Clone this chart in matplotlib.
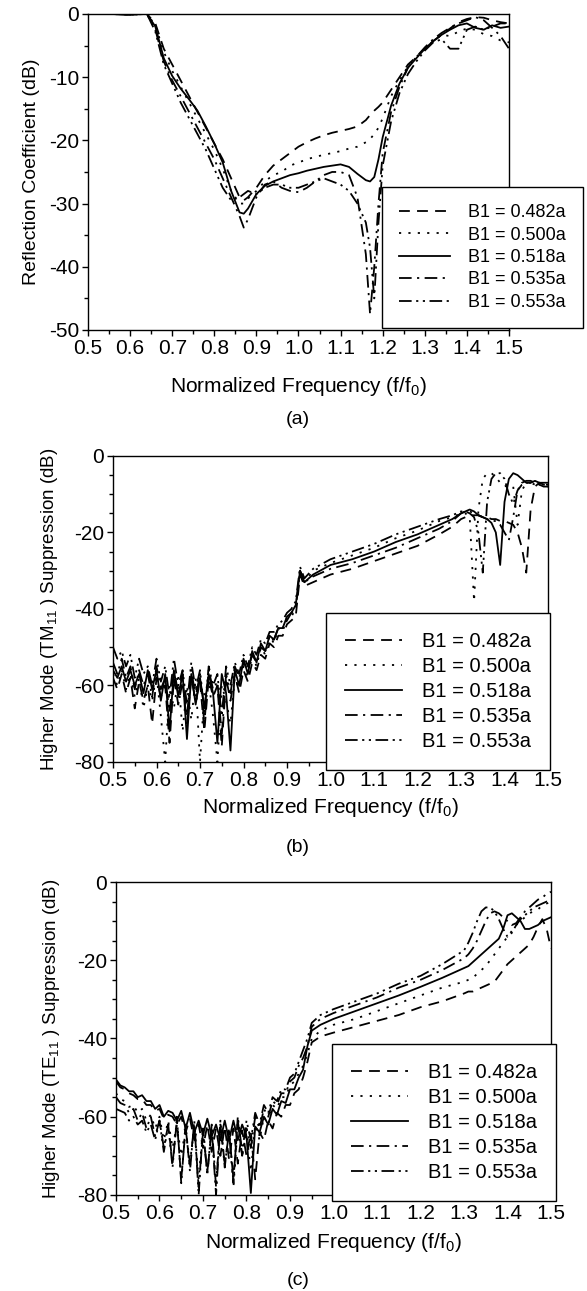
"""
plot.py - return loss and higher-mode suppression vs normalized frequency
for five values of the B1 step width.
"""
import matplotlib
matplotlib.use("Agg")
import matplotlib.pyplot as plt
from matplotlib.ticker import MultipleLocator, FormatStrFormatter

plt.rcParams["font.family"] = ["Liberation Sans", "DejaVu Sans"]
plt.rcParams["mathtext.fontset"] = "custom"
plt.rcParams["mathtext.rm"] = "Liberation Sans"
plt.rcParams["axes.unicode_minus"] = False

labels = ["B1 = 0.482a", "B1 = 0.500a", "B1 = 0.518a", "B1 = 0.535a", "B1 = 0.553a"]

# ---- (a) reflection coefficient ----
freq_a = [0.50, 0.55, 0.60, 0.64, 0.66, 0.68, 0.70, 0.72, 0.74, 0.76,
          0.78, 0.80, 0.82, 0.84, 0.86, 0.87, 0.88, 0.90, 0.92, 0.94,
          0.96, 0.98, 1.00, 1.02, 1.04, 1.06, 1.08, 1.10, 1.12, 1.14,
          1.16, 1.17, 1.18, 1.19, 1.20, 1.22, 1.24, 1.26, 1.28, 1.30,
          1.32, 1.34, 1.36, 1.38, 1.40, 1.42, 1.44, 1.46, 1.48, 1.50]
refl_482 = [0, 0, -0.1, 0, -1.5, -5.5, -8, -10.5, -13, -15.5,
            -18, -20.5, -23, -26, -29, -29.5, -29, -27.5, -25.5, -24,
            -23, -22, -21, -20.3, -19.7, -19.2, -18.8, -18.5, -18.2, -17.8,
            -16.8, -16, -15.3, -14.7, -14, -12, -10, -8, -6.8, -5.5,
            -4.3, -3.3, -2.3, -1.3, -0.8, -0.5, -0.6, -1, -1.3, -1.5]
refl_500 = [0, 0, -0.1, 0, -1.8, -6, -9, -11.5, -14, -16.5,
            -19, -21.5, -24.5, -28, -30, -30, -29.2, -28, -26.5, -25.5,
            -25, -24, -23.5, -23, -22.6, -22.3, -22, -21.7, -21.3, -21,
            -20.3, -19.8, -19, -18, -16.5, -13, -10.5, -8.3, -6.8, -5.5,
            -4.3, -3.3, -3.5, -2.8, -2.3, -2.5, -3.2, -3.5, -4.2, -4.5]
refl_518 = [0, 0, -0.1, 0, -2, -7, -9.8, -11.8, -13.5, -15.3,
            -17.8, -20.5, -23.5, -28, -31.4, -31.6, -30.8, -28.5, -27.2, -26.5,
            -26, -25.5, -25.2, -24.8, -24.5, -24.2, -24, -23.8, -24.2, -25.3,
            -26.3, -26.5, -25.8, -23, -19.5, -14.5, -11, -8.5, -7, -5.5,
            -4.3, -3.3, -2.5, -1.8, -1.5, -2.2, -2.5, -1.8, -2.2, -2]
refl_535 = [0, 0, -0.1, 0, -2.5, -7.5, -10.5, -13, -15.5, -18,
            -20.5, -23, -26, -29, -32, -33.8, -32.5, -29, -27, -26.5,
            -27.5, -28, -28.2, -27.5, -26.5, -25.5, -25, -25, -25.5, -29,
            -38, -47.5, -40, -30, -22, -15.5, -11.5, -8.5, -6.8, -5.3,
            -4, -3, -2.2, -1.5, -1, -0.5, -1, -2.2, -3.5, -5.5]
refl_553 = [0, 0, -0.1, 0, -2.8, -8, -11, -14, -16.5, -19,
            -21.5, -24.5, -27.5, -29.5, -29, -28.5, -28, -28.5, -27.5, -27,
            -27, -27.5, -27.5, -27, -26.5, -26, -26.5, -27, -28, -30,
            -33, -37, -45, -33, -24, -17, -12.5, -9.5, -7.5, -5.8,
            -4.5, -4, -5.5, -5.5, -2.5, -2, -2.5, -2, -1.5, -1.5]

# ---- (b) TM11 suppression ----
freq_b = [0.50, 0.51, 0.52, 0.53, 0.54, 0.55, 0.56, 0.57, 0.58, 0.59,
          0.60, 0.61, 0.62, 0.63, 0.64, 0.65, 0.66, 0.67, 0.68, 0.69,
          0.70, 0.71, 0.72, 0.73, 0.74, 0.75, 0.76, 0.77, 0.78, 0.79,
          0.80, 0.81, 0.82, 0.83, 0.84, 0.85, 0.86, 0.87, 0.88, 0.89,
          0.90, 0.91, 0.92,
          0.93, 0.94, 0.96, 1.00, 1.05, 1.10, 1.15, 1.20, 1.25, 1.28,
          1.30, 1.31, 1.32, 1.33, 1.34, 1.35, 1.36, 1.37, 1.38, 1.39,
          1.40, 1.41, 1.42, 1.43, 1.44, 1.45, 1.46, 1.47, 1.48, 1.49, 1.50]
tm_482 = [-58, -61, -57, -62, -58, -66, -59, -64, -60, -70,
          -58, -63, -60, -75, -58, -65, -59, -70, -58, -64,
          -59, -72, -58, -63, -60, -76, -58, -64, -57, -62,
          -56, -59, -54, -56, -52, -53, -49, -50, -47, -47,
          -44, -43, -42,
          -31, -34, -33, -31, -29.5, -27.5, -25.5, -23.5, -20.5, -18.5,
          -16.5, -16, -15.5, -15.5, -15.5, -16, -16, -16.5, -16.5, -17,
          -17, -17.5, -18, -20, -24, -30.5, -14, -8, -7, -7.5, -8]
tm_500 = [-57, -60, -56, -61, -57, -63, -58, -66, -60, -64,
          -57, -68, -80, -60, -66, -58, -72, -60, -69, -58,
          -80, -62, -59, -68, -80, -60, -64, -70, -58, -61,
          -55, -58, -52, -55, -50, -52, -47, -49, -45, -46,
          -42, -42, -40,
          -30, -33, -30, -28, -26, -24, -21.5, -19.5, -17, -16,
          -15, -15, -16, -38, -14, -6, -4.5, -4.5, -5.5, -7,
          -8, -7.5, -8, -18, -9, -7, -7, -7, -7.5, -7.5, -8]
tm_518 = [-56, -58, -55, -59, -56, -60, -57, -62, -56, -61,
          -56, -64, -57, -72, -56, -63, -57, -74, -57, -65,
          -58, -66, -57, -62, -75, -57, -62, -77, -56, -60,
          -53, -57, -51, -54, -49, -51, -47, -48, -45, -45,
          -42, -41, -39,
          -30, -33, -31, -28.5, -27, -25, -22.5, -20.5, -18, -16.5,
          -15, -14.5, -14, -14.5, -15.5, -16, -16.5, -17.5, -20, -28.5,
          -12, -6, -4.5, -5, -6, -7, -7, -6.5, -7, -7, -7]
tm_535 = [-54, -57, -53, -58, -55, -61, -56, -60, -57, -63,
          -55, -61, -58, -67, -56, -62, -57, -68, -56, -63,
          -57, -70, -56, -61, -59, -73, -57, -62, -55, -58,
          -54, -56, -52, -54, -50, -51, -48, -48, -45, -45,
          -43, -41, -40,
          -30, -33, -31.5, -29.5, -28, -26, -24, -21.5, -19, -17,
          -15, -14.5, -14.5, -15, -15.5, -16, -16.5, -17, -17, -18,
          -20, -22, -16, -9, -7, -6.5, -6.5, -7, -7, -7.5, -7.5]
tm_553 = [-50, -53, -51, -55, -52, -58, -53, -57, -55, -60,
          -53, -59, -55, -63, -53, -60, -56, -65, -54, -61,
          -56, -67, -55, -60, -57, -68, -55, -60, -54, -57,
          -52, -55, -50, -52, -48, -49, -46, -46, -44, -43,
          -41, -40, -38,
          -29, -32, -29.5, -27, -25, -23, -20.5, -18.5, -16.5, -15.5,
          -14.5, -14.5, -15, -16, -20, -30.5, -12, -6, -4.5, -4.5,
          -6, -10, -12.5, -9, -7.5, -7, -7, -7.5, -7.5, -8, -8]

# ---- (c) TE11 suppression ----
freq_c = [0.50, 0.51, 0.52, 0.53, 0.54, 0.55, 0.56, 0.57, 0.58, 0.59,
          0.60, 0.61, 0.62, 0.63, 0.64, 0.65, 0.66, 0.67, 0.68, 0.69,
          0.70, 0.71, 0.72, 0.73, 0.74, 0.75, 0.76, 0.77, 0.78, 0.79,
          0.80, 0.81, 0.82, 0.83, 0.84, 0.85, 0.86, 0.87, 0.88, 0.89,
          0.90, 0.91, 0.92, 0.93, 0.94,
          0.95, 0.97, 1.00, 1.05, 1.10, 1.15, 1.20, 1.25,
          1.30, 1.31, 1.32, 1.33, 1.34, 1.35, 1.36, 1.37, 1.38, 1.39,
          1.40, 1.41, 1.42, 1.43, 1.44, 1.45, 1.46, 1.47, 1.48, 1.49, 1.50]
te_482 = [-51, -52.5, -53, -54, -54.5, -55.5, -55.5, -57, -57, -58.5,
          -58, -60.5, -59.5, -60, -62, -60, -64, -60.5, -66, -62,
          -68, -62, -69, -63, -70, -62.5, -71, -63, -72, -63.5,
          -70, -64, -76, -64, -66, -61, -63, -59, -60, -57,
          -57, -54, -53, -50, -46,
          -41, -39.5, -38.5, -37, -35.5, -34, -32, -30.5,
          -28.5, -28, -28, -27.5, -27, -26.5, -26, -25.5, -24, -22.5,
          -21, -20, -19, -18, -17, -16, -14, -11.5, -9.5, -12, -17]
te_500 = [-54, -55.5, -56, -57.5, -57, -59, -58, -61, -59.5, -63,
          -60, -66, -61, -68, -62, -70, -63, -73, -62, -76,
          -63, -74, -64, -77, -63, -72, -64, -78, -62, -70,
          -64, -74, -62, -66, -60, -62, -57, -58, -55, -55,
          -52, -51, -49, -47, -44,
          -40, -38, -36.5, -35, -33, -31, -29, -27,
          -25.5, -25, -24.5, -23.5, -22.5, -21.5, -20, -18.5, -17, -15.5,
          -14, -12.5, -11, -10, -9, -8, -7.5, -7, -6, -5.5, -5]
te_518 = [-50.5, -52, -52.5, -53.5, -53.5, -55, -54.5, -56, -56, -58,
          -57, -60, -58.5, -59, -61, -58.5, -63, -59, -64, -61,
          -64.5, -60.5, -65, -62, -66, -61, -66, -61, -66, -62,
          -65, -79.5, -62.5, -64, -60, -62, -58, -59.5, -56, -56.5,
          -53, -53, -50, -48, -42,
          -38, -36.5, -35, -33, -31, -29, -26.8, -24.5,
          -22, -21.5, -20.5, -19.5, -18.5, -17.5, -16.5, -15.5, -14.5, -12,
          -8.5, -8, -9, -10, -12, -12, -11.5, -11, -10, -9.5, -9]
te_535 = [-55, -56.5, -57, -59, -58, -61, -59, -63, -60, -65,
          -61, -68, -62, -72, -61, -76, -63, -72, -62, -78,
          -64, -74, -63, -80, -62, -72, -64, -76, -61, -70,
          -63, -68, -60, -63, -58, -60, -56, -57, -54, -54,
          -51, -50, -47, -45, -42,
          -37, -35, -33.5, -31.5, -29.5, -27, -25, -22.5,
          -19.5, -18.5, -17, -15, -12.5, -10, -8, -7.5, -8, -9,
          -10, -11, -10.5, -9, -7.5, -6.5, -5.5, -4.5, -4, -3, -2.5]
te_553 = [-58, -58.5, -59, -61, -60, -62, -61, -64, -62, -66,
          -61, -69, -62, -73, -60, -77, -62, -74, -61, -80,
          -63, -75, -62, -78, -61, -73, -63, -77, -60, -69,
          -61, -66, -59, -62, -57, -59, -55, -56, -53, -53,
          -50, -49, -46, -43, -40,
          -36, -34, -32.5, -30.5, -28.5, -26, -24, -21,
          -17.5, -15.5, -13, -10, -7.5, -6.5, -6.5, -7.5, -9.5, -12,
          -14, -13, -11, -9.5, -8.5, -7.5, -6.5, -6, -5.5, -5, -5]

LINESTYLES = [(0, (6, 4)), (0, (1.2, 4)), "-", (0, (7, 3, 1.2, 3)),
              (0, (7, 2.5, 1.2, 2.5, 1.2, 2.5))]


def draw_panel(ax, freq, curves, ymin, ystep, ylabel, ylabel_fs, xlab_y, ylab_x,
               leg_anchor, leg_fs):
    for vals, ls, lab in zip(curves, LINESTYLES, labels):
        ax.plot(freq, vals, color="black", lw=1.3, linestyle=ls, label=lab)

    ax.set_xlim(0.5, 1.5)
    ax.set_ylim(ymin, 0)
    ax.xaxis.set_major_locator(MultipleLocator(0.1))
    ax.xaxis.set_minor_locator(MultipleLocator(0.05))
    ax.xaxis.set_major_formatter(FormatStrFormatter("%.1f"))
    ax.yaxis.set_major_locator(MultipleLocator(ystep))
    ax.yaxis.set_minor_locator(MultipleLocator(5))
    ax.tick_params(which="both", direction="out", top=False, right=False,
                   labelsize=15, pad=2, width=1)
    ax.tick_params(which="major", length=4.3)
    ax.tick_params(which="minor", length=2.9)
    for sp in ax.spines.values():
        sp.set_linewidth(1.0)

    ax.set_xlabel("Normalized Frequency (f/f$_\\mathregular{0}$)", fontsize=15, va="center")
    ax.xaxis.set_label_coords(0.5, xlab_y)
    ax.set_ylabel(ylabel, fontsize=ylabel_fs, va="center")
    ax.yaxis.set_label_coords(ylab_x, 0.5)

    leg = ax.legend(loc="upper left", bbox_to_anchor=leg_anchor,
                    bbox_transform=ax.figure.transFigure, borderaxespad=0,
                    fontsize=leg_fs, frameon=True, fancybox=False, framealpha=1,
                    edgecolor="black", handlelength=2.8, handletextpad=1.0,
                    borderpad=0.95, labelspacing=0.3)
    leg.get_frame().set_linewidth(1.0)


fig = plt.figure(figsize=(5.87, 12.91), dpi=100)
ax_a = fig.add_axes([0.1499, 0.7444, 0.7172, 0.2448])
ax_b = fig.add_axes([0.1925, 0.4098, 0.7411, 0.2370])
ax_c = fig.add_axes([0.1976, 0.0744, 0.7411, 0.2424])

draw_panel(ax_a, freq_a, [refl_482, refl_500, refl_518, refl_535, refl_553],
           -50, 10, "Reflection Coefficient (dB)", 14, -0.135, -0.135,
           (0.6508, 0.8551), 13)
ax_a.xaxis.set_label_coords(0.5, -0.18)
draw_panel(ax_b, freq_b, [tm_482, tm_500, tm_518, tm_535, tm_553],
           -80, 20, "Higher Mode (TM$_\\mathregular{11}$ ) Suppression (dB)", 13.5,
           -0.15, -0.147, (0.5554, 0.5252), 14.5)
draw_panel(ax_c, freq_c, [te_482, te_500, te_518, te_535, te_553],
           -80, 20, "Higher Mode (TE$_\\mathregular{11}$ ) Suppression (dB)", 13.5,
           -0.153, -0.148, (0.5656, 0.1913), 14.5)

for tag, ypos in [("(a)", 0.6747), ("(b)", 0.3439), ("(c)", 0.0085)]:
    fig.text(0.508, ypos, tag, fontsize=14, ha="center", va="center")

fig.savefig("out.png", dpi=100)
